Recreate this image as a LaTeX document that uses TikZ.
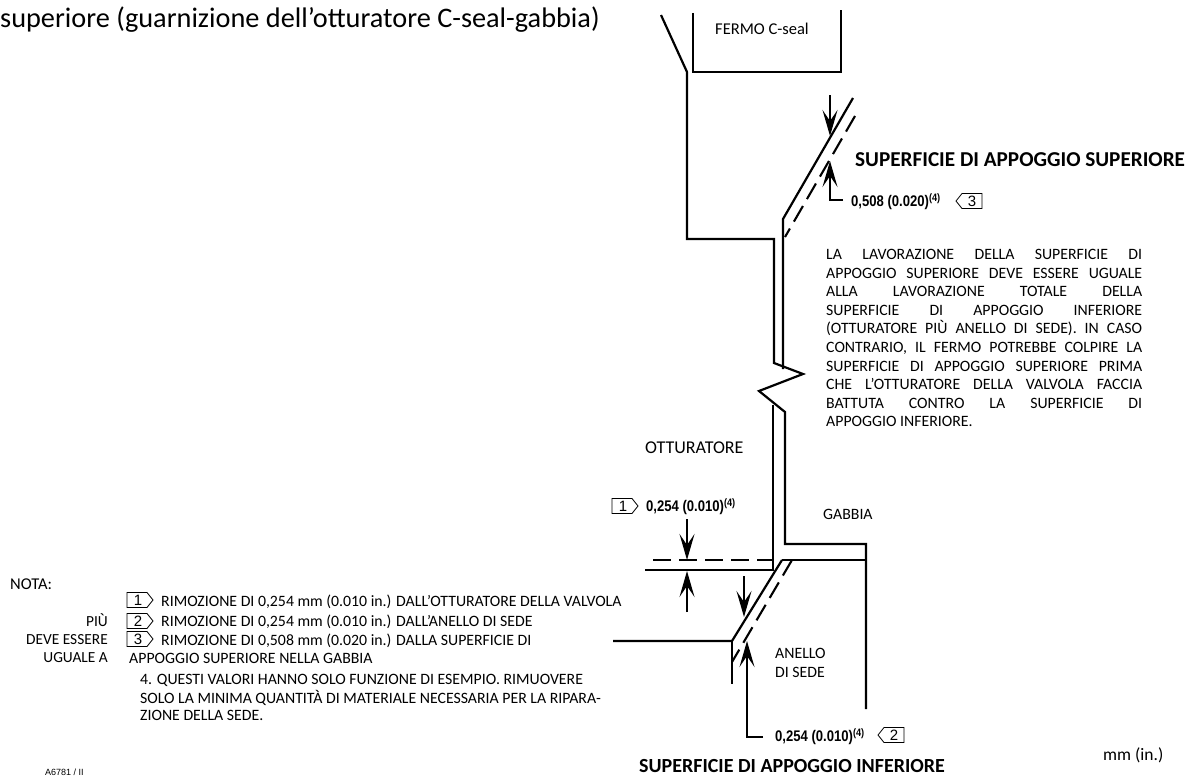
\documentclass[tikz,border=0pt]{standalone}
\usepackage{fontspec}
\setmainfont{Carlito}
\newfontfamily\dimfont[FakeStretch=0.85]{Liberation Sans}
\usetikzlibrary{arrows.meta}
\tikzset{
  wall/.style={line width=2.2pt,line join=miter,line cap=butt},
  cutline/.style={line width=2.1pt,dash pattern=on 18pt off 8pt},
  dimarrow/.style={line width=1.6pt,-{Stealth[length=26pt,width=15pt,inset=11pt]}},
  txt/.style={inner sep=0pt,anchor=west,font=\fontsize{15.8}{15.8}\selectfont},
  txtr/.style={inner sep=0pt,anchor=east,font=\fontsize{15.4}{15.4}\selectfont},
  dimtxt/.style={inner sep=0pt,anchor=west,font=\dimfont\bfseries\fontsize{15.4}{15.4}\selectfont},
  head/.style={inner sep=0pt,anchor=west,font=\bfseries\fontsize{21.2}{21.2}\selectfont},
  flag/.style={line width=0.8pt},
  flagnum/.style={inner sep=0pt,font=\fontspec{Liberation Sans}\fontsize{15}{15}\selectfont}
}
\newcommand{\rflag}[3]{% x, y centre, label
  \draw[flag] (#1+20,#2-7.5) -- (#1,#2-7.5) -- (#1,#2+7.5) -- (#1+20,#2+7.5) -- (#1+26,#2) -- cycle;
  \node[flagnum] (flag#3r#1) at (#1+11,#2) {#3};}
\newcommand{\lflag}[3]{%
  \draw[flag] (#1+6,#2-7.5) -- (#1+26,#2-7.5) -- (#1+26,#2+7.5) -- (#1+6,#2+7.5) -- (#1,#2) -- cycle;
  \node[flagnum] (flag#3l#1) at (#1+16,#2) {#3};}
\newcommand{\jline}[1]{\makebox[316pt][s]{#1}}
\begin{document}
\begin{tikzpicture}[x=1pt,y=-1pt]
\useasboundingbox (0,0) rectangle (1186,776);
\draw[wall] (661,15) -- (687,72) -- (687,239) -- (774,239) -- (774,363) -- (803,374) -- (759,391) -- (785,412) -- (785,544) -- (866,544) -- (866,709);
\draw[wall] (693,13) -- (693,72) -- (841,72) -- (841,10);
\draw[wall] (853,98) -- (783,219) -- (783,369);
\draw[wall] (773,405) -- (773,570) -- (645,570);
\draw[wall] (782,560) -- (866,560);
\draw[wall] (782,560) -- (732,641) -- (613,641);
\draw[wall] (732,641) -- (732,684);
\draw[cutline] (855,116) -- (785,237);
\draw[cutline] (792,560) -- (732,662);
\draw[cutline] (653,560) -- (773,560);
\coordinate (a1) at (830,95); \coordinate (a1t) at (830,136);
\coordinate (a2) at (843,200); \coordinate (a2m) at (830,200); \coordinate (a2t) at (830,161);
\coordinate (a3) at (687,519); \coordinate (a3t) at (687,560);
\coordinate (a4) at (687,612); \coordinate (a4t) at (687,571);
\coordinate (a5) at (744,576); \coordinate (a5t) at (744,617);
\coordinate (a6) at (763,737); \coordinate (a6m) at (747,737); \coordinate (a6t) at (747,641);
\draw[dimarrow] (a1) -- (a1t);
\draw[dimarrow] (a2) -- (a2m) -- (a2t);
\draw[dimarrow] (a3) -- (a3t);
\draw[dimarrow] (a4) -- (a4t);
\draw[dimarrow] (a5) -- (a5t);
\draw[dimarrow] (a6) -- (a6m) -- (a6t);
\rflag{612}{506}{1}
\lflag{878}{735}{2}
\lflag{956}{201}{3}
\rflag{127}{600}{1}
\rflag{127}{621}{2}
\rflag{127}{639}{3}
\node[inner sep=0pt,anchor=west,font=\fontsize{28.3}{28.3}\selectfont] (title) at (0,20) {superiore (guarnizione dell'otturatore C-seal-gabbia)};
\node[inner sep=0pt,anchor=west,font=\fontsize{16.5}{16.5}\selectfont] (fermo) at (715,29) {FERMO C-seal};
\node[head] (hsup) at (855,160) {SUPERFICIE DI APPOGGIO SUPERIORE};
\node[inner sep=0pt,anchor=west,font=\bfseries\fontsize{20}{20}\selectfont] (hinf) at (639,766) {SUPERFICIE DI APPOGGIO INFERIORE};
\node[dimtxt] (d3) at (851,202) {0,508 (0.020)\textsuperscript{(4)}};
\node[dimtxt] (d1) at (646,507) {0,254 (0.010)\textsuperscript{(4)}};
\node[dimtxt] (d2) at (775,737) {0,254 (0.010)\textsuperscript{(4)}};
\node[inner sep=0pt,anchor=north west,align=left,font=\fontsize{15.8}{18.6}\selectfont] (para) at (826,249) {%
\jline{LA LAVORAZIONE DELLA SUPERFICIE DI}\\
\jline{APPOGGIO SUPERIORE DEVE ESSERE UGUALE}\\
\jline{ALLA LAVORAZIONE TOTALE DELLA}\\
\jline{SUPERFICIE DI APPOGGIO INFERIORE}\\
\jline{(OTTURATORE PIÙ ANELLO DI SEDE). IN CASO}\\
\jline{CONTRARIO, IL FERMO POTREBBE COLPIRE LA}\\
\jline{SUPERFICIE DI APPOGGIO SUPERIORE PRIMA}\\
\jline{CHE L'OTTURATORE DELLA VALVOLA FACCIA}\\
\jline{BATTUTA CONTRO LA SUPERFICIE DI}\\
APPOGGIO INFERIORE.};
\node[inner sep=0pt,anchor=west,font=\fontsize{18}{18}\selectfont] (ott) at (645,448) {OTTURATORE};
\node[txt] (gab) at (823,514) {GABBIA};
\node[txt] (an) at (775,653) {ANELLO};
\node[txt] (se) at (775,672) {DI SEDE};
\node[inner sep=0pt,anchor=west,font=\fontsize{16.5}{16.5}\selectfont] (nota) at (10,584) {NOTA:};
\node[txtr] (piu) at (108,620) {PIÙ};
\node[txtr] (deve) at (108,640) {DEVE ESSERE};
\node[txtr] (ugu) at (108,658) {UGUALE A};
\node[txt] (n1) at (161,602) {RIMOZIONE DI 0,254 mm (0.010 in.) DALL'OTTURATORE DELLA VALVOLA};
\node[txt] (n2) at (161,622) {RIMOZIONE DI 0,254 mm (0.010 in.) DALL'ANELLO DI SEDE};
\node[txt] (n3) at (161,641) {RIMOZIONE DI 0,508 mm (0.020 in.) DALLA SUPERFICIE DI};
\node[txt] (n3b) at (129,658) {APPOGGIO SUPERIORE NELLA GABBIA};
\node[txt] (n4) at (140,680) {4. QUESTI VALORI HANNO SOLO FUNZIONE DI ESEMPIO. RIMUOVERE};
\node[txt] (n4b) at (140,698) {SOLO LA MINIMA QUANTITÀ DI MATERIALE NECESSARIA PER LA RIPARA-};
\node[txt] (n4c) at (140,715) {ZIONE DELLA SEDE.};
\node[inner sep=0pt,anchor=west,font=\fontsize{17.5}{17.5}\selectfont] (unit) at (1103,755) {mm (in.)};
\node[inner sep=0pt,anchor=west,font=\fontspec{Liberation Sans}\fontsize{9}{9}\selectfont] (code) at (45,772) {A6781 / II};
\end{tikzpicture}
\end{document}
